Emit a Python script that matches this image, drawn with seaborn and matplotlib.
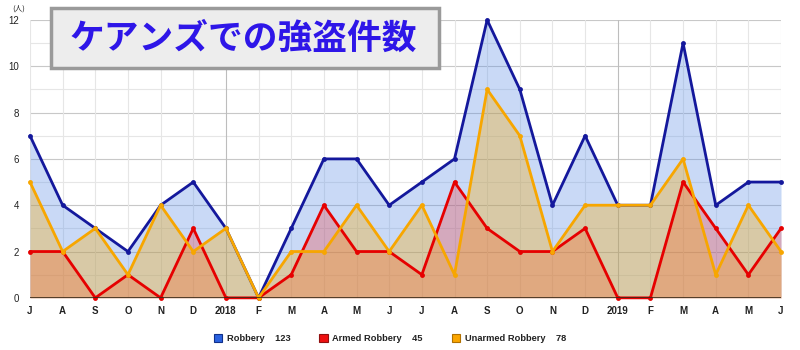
import numpy as np
import pandas as pd
import matplotlib
matplotlib.use('Agg')
import matplotlib.pyplot as plt
from matplotlib.patches import Patch, Rectangle
import seaborn as sns

months = ['J', 'A', 'S', 'O', 'N', 'D', '2018', 'F', 'M', 'A', 'M', 'J',
          'J', 'A', 'S', 'O', 'N', 'D', '2019', 'F', 'M', 'A', 'M', 'J']
robbery = [7, 4, 3, 2, 4, 5, 3, 0, 3, 6, 6, 4, 5, 6, 12, 9, 4, 7, 4, 4, 11, 4, 5, 5]
armed = [2, 2, 0, 1, 0, 3, 0, 0, 1, 4, 2, 2, 1, 5, 3, 2, 2, 3, 0, 0, 5, 3, 1, 3]
unarmed = [5, 2, 3, 1, 4, 2, 3, 0, 2, 2, 4, 2, 4, 1, 9, 7, 2, 4, 4, 4, 6, 1, 4, 2]
series_names = ['Robbery', 'Armed Robbery', 'Unarmed Robbery']
title = 'ケアンズでの強盗件数'

sns.set_style('white')
plt.rcParams['font.family'] = ['Liberation Sans', 'Noto Sans CJK JP', 'DejaVu Sans']

df = pd.DataFrame({'month': np.arange(len(months)), 'Robbery': robbery,
                   'Armed Robbery': armed, 'Unarmed Robbery': unarmed})

line_colors = ['#14189c', '#e60000', '#f7a600']
fill_colors = ['#5b8ee6', '#f03c3c', '#faaa00']
fill_alphas = [0.33, 0.30, 0.32]

fig = plt.figure(figsize=(8, 3.5), dpi=100)
ax = fig.add_axes([0.0375, 0.149, 0.9388, 0.794])

# grid
for y in range(0, 13):
    ax.axhline(y, color='#c8c8c8' if y % 2 == 0 else '#e6e6e6', lw=0.8, zorder=0)
for i, m in enumerate(months):
    ax.axvline(i, color='#bdbdbd' if m in ('2018', '2019') else '#e6e6e6', lw=0.8, zorder=0)

for name, fc, a in zip(series_names, fill_colors, fill_alphas):
    ax.fill_between(df['month'], df[name], 0, color=fc, alpha=a, lw=0, zorder=1)

for name, lc in zip(series_names, line_colors):
    sns.lineplot(data=df, x='month', y=name, ax=ax, color=lc, lw=2,
                 marker='o', markersize=3.5, markeredgewidth=0, zorder=3,
                 clip_on=False)

ax.axhline(0, color='#3a2a1a', lw=1.2, zorder=4)

ax.set_xlim(0, len(months) - 1)
ax.set_ylim(0, 12)
ax.set_xticks(df['month'])
ax.set_xticklabels(months, fontsize=7, fontweight='bold', color='#222222')
ax.set_yticks(range(0, 13, 2))
ax.set_yticklabels([str(v) for v in range(0, 13, 2)], fontsize=7, color='#222222')
ax.tick_params(length=0, pad=6)
ax.tick_params(axis='y', pad=8)
ax.set_xlabel('')
ax.set_ylabel('')
for s in ax.spines.values():
    s.set_visible(False)

fig.text(0.023, 0.975, '(人)', fontsize=5.5, ha='center', va='center',
         family=['Noto Sans CJK JP', 'DejaVu Sans'])

# title box
fig.patches.append(Rectangle((51 / 800, 1 - 68 / 350), 388 / 800, 60 / 350,
                             transform=fig.transFigure, facecolor='#ededed',
                             edgecolor='#9a9a9a', lw=2.5, zorder=5))
fig.text(70 / 800, 1 - 38 / 350, title, fontsize=25, fontweight='bold',
         color='#2e16e8', ha='left', va='center', zorder=6,
         family=['Noto Sans CJK JP', 'DejaVu Sans'])

totals = [sum(robbery), sum(armed), sum(unarmed)]
handles = [Patch(facecolor=c, edgecolor=e, lw=0.8)
           for c, e in zip(['#2a62e0', '#ee1010', '#fba600'], ['#10308a', '#901010', '#b07000'])]
labels = [f'{n}    {t}' for n, t in zip(series_names, totals)]
leg = fig.legend(handles, labels, loc='center', bbox_to_anchor=(0.4875, 0.033), ncol=3,
                 frameon=False, fontsize=6.7, handlelength=0.9, handleheight=0.9,
                 handletextpad=0.5, columnspacing=3.1)
for t in leg.get_texts():
    t.set_fontweight('bold')
    t.set_color('#222222')

fig.savefig('out.png', dpi=100)
